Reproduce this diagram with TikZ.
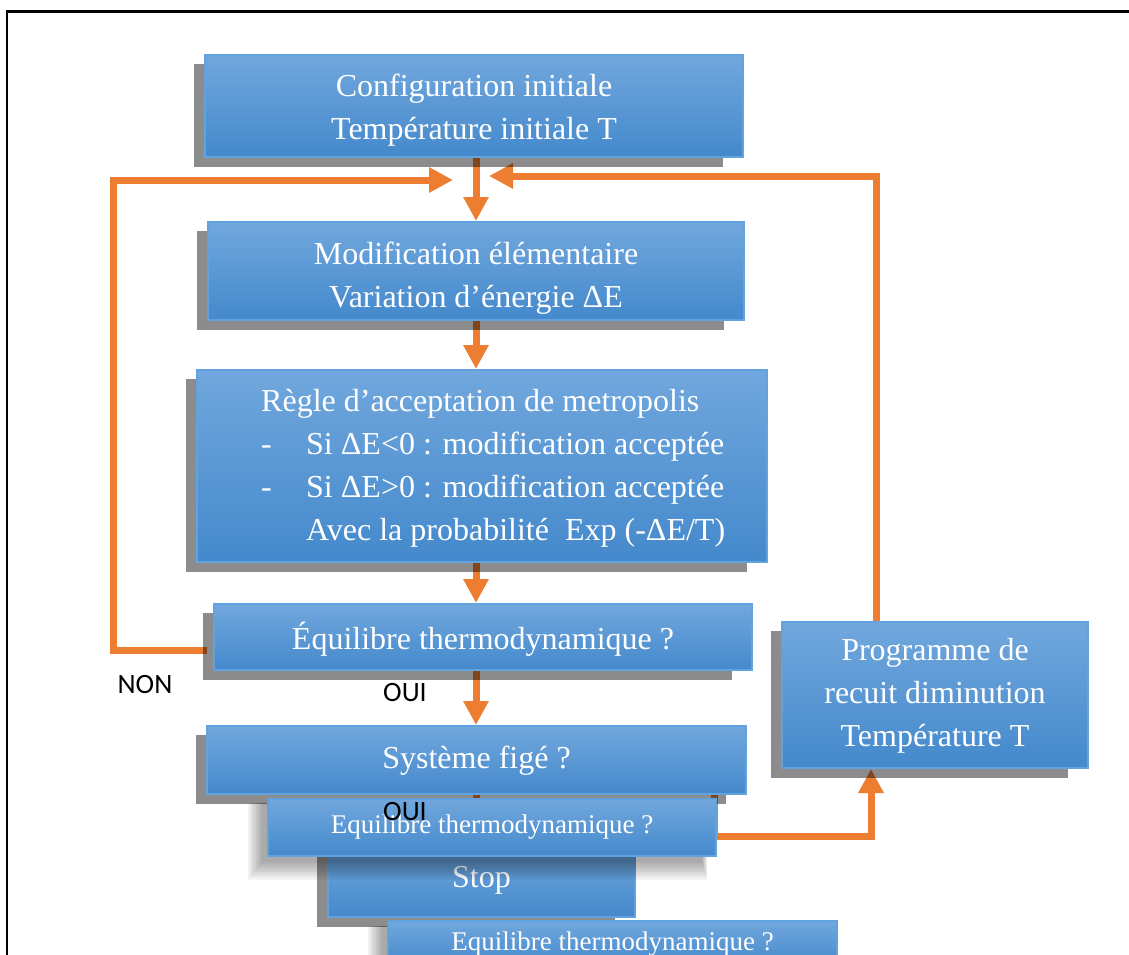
\documentclass[tikz,border=0pt]{standalone}
\usepackage{fontspec}
\setmainfont{Liberation Serif}
\newfontfamily\labfont{Carlito}
\usetikzlibrary{arrows.meta,calc}
\pgfdeclarelayer{connectors}
\pgfdeclarelayer{shadowlayer}
\pgfsetlayers{connectors,shadowlayer,main}
\definecolor{boxtop}{RGB}{113,167,221}
\definecolor{boxbot}{RGB}{68,137,204}
\definecolor{boxedge}{RGB}{98,162,222}
\definecolor{flowc}{RGB}{237,125,49}

% struts that fix the height of the first line and the depth of the last one
\newcommand\topfix[1][1.06em]{\rule{0pt}{#1}}
\newcommand\botfix{\rule[-0.31em]{0pt}{0.31em}}

\tikzset{
  box/.style={rectangle, draw=boxedge, line width=2pt, top color=boxtop,
    bottom color=boxbot, text=white, align=center, inner sep=0pt,
    font=\fontsize{32}{43}\selectfont},
  smallbox/.style={box, font=\fontsize{27}{32}\selectfont},
  boxtext/.style={text=white, align=left, inner sep=0pt,
    font=\fontsize{32}{43}\selectfont},
  flow/.style={draw=flowc, line width=7pt,
    -{Triangle[length=24pt,width=24pt]}},
  answer/.style={font=\labfont\fontsize{28}{30}\selectfont, inner sep=0pt},
  frame/.style={draw=black, line width=2.5pt},
}

% hard drop shadow, offset to the lower left
\newcommand\boxshadow[1]{%
  \begin{pgfonlayer}{shadowlayer}
    \fill[black,opacity=0.45] ($(#1.north west)+(-10,10)$)
      rectangle ($(#1.south east)+(-21,9)$);
  \end{pgfonlayer}}
% soft (blurred) shadow: left top right bottom
\newcommand\softshadow[4]{%
  \foreach \k in {0,...,9}{%
    \fill[black,opacity=0.04] ({#1-6-\k*1.6},{#2+4}) rectangle
      ({#3-14+\k*0.6},{#4+6+\k*2});}}

\begin{document}
\begin{tikzpicture}[x=1pt,y=-1pt]
\useasboundingbox (0,0) rectangle (1129,955);

% page frame
\draw[frame] (7,955) -- (7,11.5) -- (1129,11.5);

% main column
\node[box, minimum width=538, minimum height=102] (init) at (474,106)
  {\topfix Configuration initiale\\Température initiale T\botfix};
\node[box, minimum width=536, minimum height=98] (modif) at (476,271)
  {\topfix[1.25em]Modification élémentaire\\Variation d’énergie ΔE\botfix};
\node[box, minimum width=570, minimum height=192] (rule) at (482,466) {};
\node[boxtext, anchor=west] (ruletext) at ($(rule.west)+(65,2)$)
  {Règle d’acceptation de metropolis\\
   \makebox[45pt][l]{-}Si ΔE<0 : modification acceptée\\
   \makebox[45pt][l]{-}Si ΔE>0 : modification acceptée\\
   \hspace*{45pt}Avec la probabilité\ \ Exp (-ΔE/T)};
\node[box, minimum width=538, minimum height=66] (equi) at (483,637)
  {\topfix Équilibre thermodynamique ?\botfix};
\node[box, minimum width=539, minimum height=68] (sys) at (476.5,760)
  {\topfix[0.81em]Système figé ?\botfix};
\node[box, minimum width=306, minimum height=146] (prog) at (935,695)
  {\topfix[0.87em]Programme de\\recuit diminution\\Température T\botfix};
\node[box, minimum width=307, minimum height=72] (stop) at (481.5,881)
  {\topfix\raisebox{6pt}{Stop}\botfix};

\foreach \b in {init,modif,rule,equi,sys,prog,stop} {\boxshadow{\b}}

% overlapping boxes at the bottom, with soft shadows
\softshadow{268}{799}{716}{856}
\node[smallbox, minimum width=448, minimum height=57] (equisub) at (492,827.5)
  {Equilibre thermodynamique ?};
\node[answer] (oui2) at (405,812) {OUI};
\softshadow{388}{922}{837}{968}
\node[smallbox, minimum width=449, minimum height=46] (equibot) at (612.5,944)
  {Equilibre thermodynamique ?};

% answers
\node[answer] (non) at (145,685) {NON};
\node[answer] (oui) at (405,693) {OUI};

% connectors
\coordinate (spine) at (476,0);
\coordinate (lefttop) at (113,180);
\coordinate (lefttip) at (453,180);
\coordinate (rightup) at (876,176);
\coordinate (righttip) at (489,176);
\coordinate (sysout) at (714,0);
\coordinate (bend) at (871,836);
\begin{pgfonlayer}{connectors}
  \draw[flow] (init.south -| spine) -- (modif.north -| spine);
  \draw[flow] (modif.south -| spine) -- (rule.north -| spine);
  \draw[flow] (rule.south -| spine) -- (equi.north -| spine);
  \draw[flow] (equi.south -| spine) -- (sys.north -| spine);
  \draw[flow] (sys.south -| spine) -- (stop.north -| spine);
  \draw[flow] ($(equi.west)+(-6,13)$) -| (lefttop) -- (lefttip);
  \draw[flow] (prog.north -| rightup) |- (righttip);
  \draw[flow] (sys.south -| sysout) |- (bend) -- (prog.south -| bend);
\end{pgfonlayer}
\end{tikzpicture}
\end{document}
